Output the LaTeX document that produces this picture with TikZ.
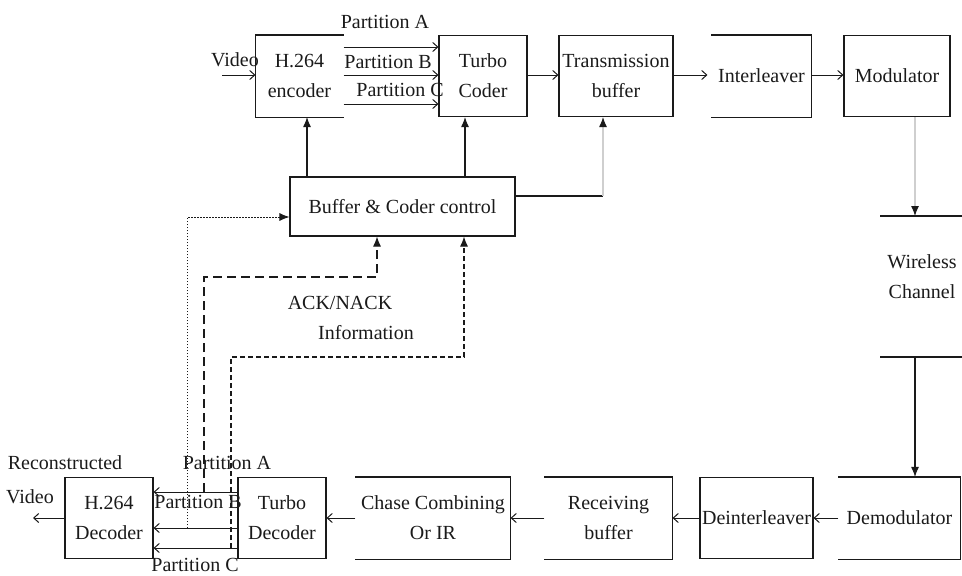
\documentclass[tikz,border=0pt]{standalone}
\usepackage{fontspec}
\setmainfont{Liberation Serif}
\usetikzlibrary{arrows.meta,positioning,calc}
\definecolor{Ink}{HTML}{1A1A1A}
\definecolor{Pale}{HTML}{CFCFCF}
\tikzset{
  blk/.style={draw=Ink,line width=1.1pt,minimum height=81pt,inner sep=0pt,
    align=center,font=\fontsize{20}{30}\selectfont,text=Ink},
  openblk/.style={blk,draw=none},
  lbl/.style={font=\fontsize{20}{24}\selectfont,inner sep=0pt,text=Ink},
  arr/.style={-{Straight Barb[length=5pt,width=9pt]},draw=Ink,line width=1pt},
  tip/.style={-{Latex[length=10pt,width=8pt,color=Ink]},draw=Ink,line width=1.1pt},
  side/.style={draw=Ink,line width=1.1pt}
}
\begin{document}
\begin{tikzpicture}[x=1pt,y=-1pt]
  \useasboundingbox (0,0) rectangle (962,576);
  % sender side
  \node[openblk,minimum width=87pt] (enc) at (299.5,76) {H.264\\encoder};
  \node[blk,minimum width=88pt] (tcod) at (483,76) {Turbo\\Coder};
  \node[blk,minimum width=114pt] (txbuf) at (616,76) {Transmission\\buffer};
  \node[openblk,minimum width=99pt] (intl) at (761.5,76) {Interleaver};
  \node[blk,minimum width=106pt] (mod) at (897,76) {Modulator};
  \node[blk,minimum width=225pt,minimum height=59pt] (ctrl) at (402.5,206.5) {Buffer \& Coder control};
  \draw[side] (enc.north east) -| (enc.south west) -- (enc.south east);
  \draw[side] (intl.north west) -| (intl.south east) -- (intl.south west);
  % channel
  \coordinate (chtop) at (915,216);
  \coordinate (chbot) at (915,357);
  \draw[side] (880,216) -- (962,216);
  \draw[side] (880,357) -- (962,357);
  \node[blk,draw=none,minimum width=82pt] (chan) at (922,277) {Wireless\\Channel};
  % receiver side
  \node[openblk,minimum width=121pt] (demod) at (899.5,518) {Demodulator};
  \node[blk,minimum width=113pt] (deintl) at (756.5,518) {Deinterleaver};
  \node[openblk,minimum width=127pt] (recbuf) at (608.5,518) {Receiving\\buffer};
  \node[openblk,minimum width=154pt] (chase) at (433,518) {Chase Combining\\Or IR};
  \node[blk,minimum width=88pt] (tdec) at (282,518) {Turbo\\Decoder};
  \node[blk,minimum width=88pt] (hdec) at (109,518) {H.264\\Decoder};
  \draw[side] (demod.south west) -- (demod.south east) -- (demod.north east) -- (demod.north west);
  \draw[side] (recbuf.north west) -| (recbuf.south east) -- (recbuf.south west);
  \draw[side] (chase.north west) -| (chase.south east) -- (chase.south west);
  % labels
  \node[lbl] (vin) at (235,60) {Video};
  \node[lbl] (pta) at (385,22) {Partition A};
  \node[lbl] (ptb) at (388,62) {Partition B};
  \node[lbl] (ptc) at (400,90) {Partition C};
  \node[lbl] (rcon) at (65,463) {Reconstructed};
  \node[lbl] (vout) at (30,497) {Video};
  \node[lbl] (pra) at (227,463) {Partition A};
  \node[lbl] (prb) at (198,502) {Partition B};
  \node[lbl] (prc) at (195,565) {Partition C};
  \node[lbl] (ack) at (340,303) {ACK/NACK};
  \node[lbl] (info) at (366,333) {Information};
  \coordinate (src) at (222,75);
  \coordinate (sink) at (33,518);
  % forward path
  \draw[arr] (src) -- (enc.west |- src);
  \foreach \y in {47,75,104}
    \draw[arr] (enc.east |- 0,\y) -- (tcod.west |- 0,\y);
  \draw[arr] (tcod.east |- 0,75) -- (txbuf.west |- 0,75);
  \draw[arr] (txbuf.east |- 0,75) -- ([xshift=-4pt]intl.west |- 0,75);
  \draw[arr] (intl.east |- 0,75) -- (mod.west |- 0,75);
  \draw[tip,draw=Pale] (mod.south -| chtop) -- (chtop);
  \draw[tip] (chbot) -- (demod.north -| chbot);
  \draw[arr] (demod.west) -- (deintl.east);
  \draw[arr] (deintl.west) -- (recbuf.east);
  \draw[arr] (recbuf.west) -- (chase.east);
  \draw[arr] (chase.west) -- (tdec.east);
  \foreach \y in {492,528,548}
    \draw[arr] (tdec.west |- 0,\y) -- (hdec.east |- 0,\y);
  \draw[arr] (hdec.west) -- (sink);
  % control
  \draw[tip] ([xshift=7.5pt]ctrl.north -| enc.south) -- ([xshift=7.5pt]enc.south);
  \draw[tip] ([xshift=-18pt]ctrl.north -| tcod.south) -- ([xshift=-18pt]tcod.south);
  \draw[side] ([yshift=10.5pt]ctrl.east) -- (603,196);
  \draw[tip,draw=Pale] (603,196) -- ([xshift=-13pt]txbuf.south);
  % feedback from receiver
  \coordinate (fba) at (204,492);
  \coordinate (fbb) at (187,528);
  \coordinate (fbc) at (231,548);
  \draw[tip,line width=.8pt,dash pattern=on 1.5pt off 1.5pt] (fbb) |- ([yshift=-10.5pt]ctrl.west);
  \draw[tip,dash pattern=on 9pt off 5pt] (fba) -- (204,277) -| ([xshift=-25.5pt]ctrl.south);
  \draw[tip,dash pattern=on 5pt off 3pt] (fbc) -- (231,357) -| ([xshift=61.5pt]ctrl.south);
\end{tikzpicture}
\end{document}
